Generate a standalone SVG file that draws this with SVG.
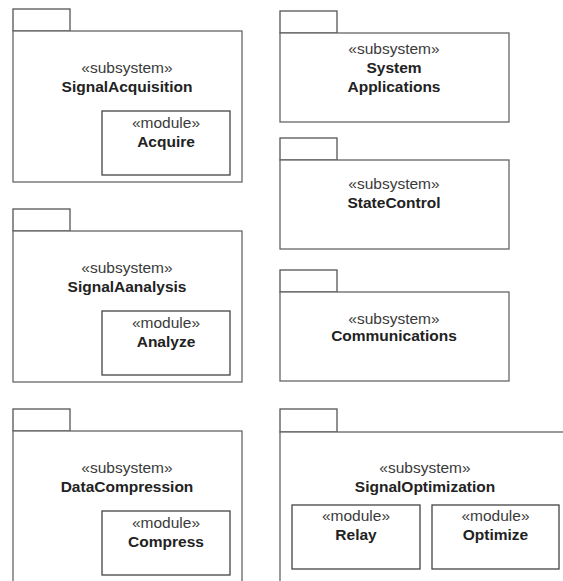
<svg xmlns="http://www.w3.org/2000/svg" width="563" height="581" viewBox="0 0 563 581">
  <style>
    .tab { fill: #fff; stroke: #555; stroke-width: 1.3; }
    .body { fill: #fff; stroke: #666; stroke-width: 1.3; }
    .mod { fill: #fff; stroke: #444; stroke-width: 1.3; }
    text { font-family: "Liberation Sans", Arial, sans-serif; font-size: 15.5px; text-anchor: middle; }
    .st { fill: #3a3a3a; }
    .nm { fill: #222; font-weight: bold; }
  </style>
  <rect width="563" height="581" fill="#fff"/>

  <!-- left column -->
  <g id="signal-acquisition">
    <rect class="tab" x="13" y="9" width="57" height="22"/>
    <rect class="body" x="13" y="31" width="229" height="151"/>
    <text class="st" x="127" y="72.5">«subsystem»</text>
    <text class="nm" x="127" y="92">SignalAcquisition</text>
    <g id="acquire">
      <rect class="mod" x="102" y="111" width="128" height="64"/>
      <text class="st" x="166" y="128">«module»</text>
      <text class="nm" x="166" y="147">Acquire</text>
    </g>
  </g>

  <g id="signal-analysis">
    <rect class="tab" x="13" y="209" width="57" height="22"/>
    <rect class="body" x="13" y="231" width="229" height="151"/>
    <text class="st" x="127" y="272.5">«subsystem»</text>
    <text class="nm" x="127" y="292">SignalAanalysis</text>
    <g id="analyze">
      <rect class="mod" x="102" y="311" width="128" height="64"/>
      <text class="st" x="166" y="328">«module»</text>
      <text class="nm" x="166" y="347">Analyze</text>
    </g>
  </g>

  <g id="data-compression">
    <rect class="tab" x="13" y="409" width="57" height="22"/>
    <rect class="body" x="13" y="431" width="229" height="170"/>
    <text class="st" x="127" y="472.5">«subsystem»</text>
    <text class="nm" x="127" y="492">DataCompression</text>
    <g id="compress">
      <rect class="mod" x="102" y="511" width="128" height="64"/>
      <text class="st" x="166" y="528">«module»</text>
      <text class="nm" x="166" y="547">Compress</text>
    </g>
  </g>

  <!-- right column -->
  <g id="system-applications">
    <rect class="tab" x="280" y="11" width="57" height="22"/>
    <rect class="body" x="280" y="33" width="229" height="89"/>
    <text class="st" x="394" y="53.5">«subsystem»</text>
    <text class="nm" x="394" y="72.5">System</text>
    <text class="nm" x="394" y="91.5">Applications</text>
  </g>

  <g id="state-control">
    <rect class="tab" x="280" y="138" width="57" height="22"/>
    <rect class="body" x="280" y="160" width="229" height="89"/>
    <text class="st" x="394" y="188.5">«subsystem»</text>
    <text class="nm" x="394" y="208">StateControl</text>
  </g>

  <g id="communications">
    <rect class="tab" x="280" y="270" width="57" height="22"/>
    <rect class="body" x="280" y="292" width="229" height="89"/>
    <text class="st" x="394" y="323.5">«subsystem»</text>
    <text class="nm" x="394" y="341">Communications</text>
  </g>

  <g id="signal-optimization">
    <rect class="tab" x="280" y="409" width="57" height="23"/>
    <rect class="body" x="280" y="432" width="290" height="170"/>
    <text class="st" x="425" y="472.5">«subsystem»</text>
    <text class="nm" x="425" y="492">SignalOptimization</text>
    <g id="relay">
      <rect class="mod" x="292" y="505" width="128" height="64"/>
      <text class="st" x="356" y="521">«module»</text>
      <text class="nm" x="356" y="540">Relay</text>
    </g>
    <g id="optimize">
      <rect class="mod" x="432" y="505" width="127" height="64"/>
      <text class="st" x="495.5" y="521">«module»</text>
      <text class="nm" x="495.5" y="540">Optimize</text>
    </g>
  </g>

  <!-- this diagram has no connectors -->
  <g id="connectors"/>
</svg>
